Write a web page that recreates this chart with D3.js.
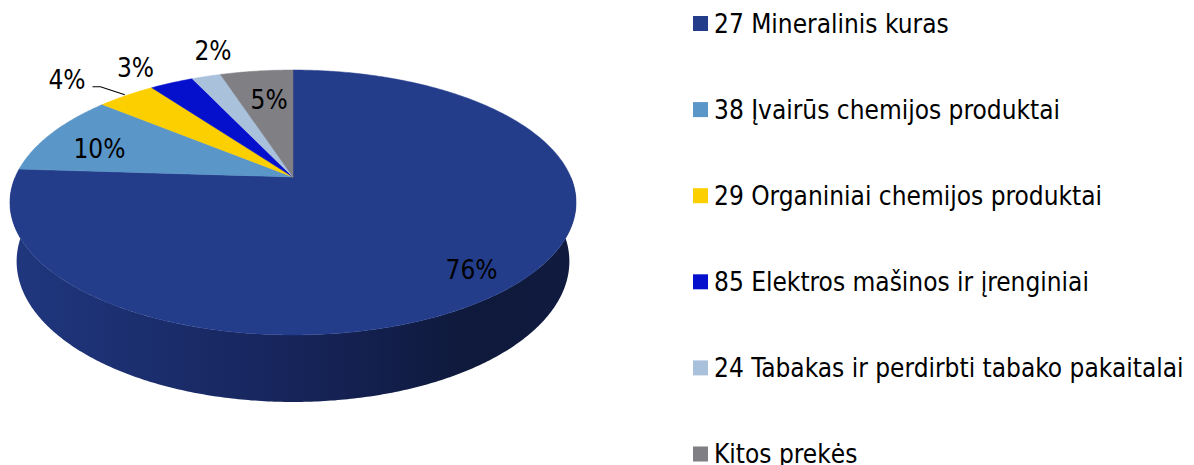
<!DOCTYPE html>
<html>
<head>
<meta charset="utf-8">
<script src="https://cdn.jsdelivr.net/npm/d3@7"></script>
<style>
  body { margin: 0; background: #fff; }
  text { font-family: "DejaVu Sans Condensed", "DejaVu Sans", sans-serif; fill: #000; }
</style>
</head>
<body>
<div id="chart"></div>
<script>

// data
const categories = [
    "27 Mineralinis kuras",
    "38 Įvairūs chemijos produktai",
    "29 Organiniai chemijos produktai",
    "85 Elektros mašinos ir įrenginiai",
    "24 Tabakas ir perdirbti tabako pakaitalai",
    "Kitos prekės"
];
const shares = [76, 10, 4, 3, 2, 5];
const colors = ["#243d8b", "#5a96c8", "#fccf00", "#0510cc", "#aac1dc", "#7f7f84"];

// label placement (radius factor on disc, pixel nudges)
const labelLayout = [
    {r: 0.83, dx: 0, dy: 6},
    {r: 0.80, dx: 2, dy: 8},
    {r: 1.30, dx: -17, dy: 5, leader: true},
    {r: 1.20, dx: -16, dy: 1},
    {r: 1.20, dx: 21, dy: -9},
    {r: 0.70, dx: 3, dy: 1}
];

const W = 1194, H = 465;
const svg = d3.select("#chart").append("svg")
    .attr("width", W)
    .attr("height", H);

// perspective projection of a tilted disc
const cam = {cx: 293, cy: 177, fx: 1286, fy: 1301, D: 4.63, elev: 27 * Math.PI / 180, depth: 0.237};
const sinE = Math.sin(cam.elev), cosE = Math.cos(cam.elev);

function proj(phi, r, y) {
    let x = r * Math.sin(phi);
    let z = r * Math.cos(phi);
    let yc = z * sinE + y * cosE;
    let dc = cam.D + z * cosE - y * sinE;
    return [cam.cx + cam.fx * x / dc, cam.cy - cam.fy * yc / dc];
}

const pie = d3.pie().sort(null).value(d => d)(shares);

function arcPts(a0, a1, r, y) {
    let n = Math.max(2, Math.ceil((a1 - a0) / 0.01));
    return d3.range(n + 1).map(i => proj(a0 + (a1 - a0) * i / n, r, y));
}

const line = d3.line();

// gradient for the side wall
const defs = svg.append("defs");
const grad = defs.append("linearGradient")
    .attr("id", "sideGrad")
    .attr("gradientUnits", "userSpaceOnUse")
    .attr("x1", 10).attr("x2", 576).attr("y1", 0).attr("y2", 0);
grad.append("stop").attr("offset", 0).attr("stop-color", "#20377f");
grad.append("stop").attr("offset", 0.5).attr("stop-color", "#16245a");
grad.append("stop").attr("offset", 0.82).attr("stop-color", "#0f193b");
grad.append("stop").attr("offset", 1).attr("stop-color", "#111b40");

// side walls (only the front half is visible)
const sides = svg.append("g");
pie.forEach((d, i) => {
    let a0 = Math.max(d.startAngle, Math.PI / 2);
    let a1 = Math.min(d.endAngle, Math.PI * 1.5);
    if (a1 <= a0) return;
    let top = arcPts(a0, a1, 1, 0);
    let bot = arcPts(a0, a1, 1, -cam.depth).reverse();
    sides.append("path")
        .attr("d", line(top.concat(bot)) + "Z")
        .attr("fill", i === 0 ? "url(#sideGrad)" : d3.color(colors[i]).darker(1.4));
});

// top faces
const tops = svg.append("g");
pie.forEach((d, i) => {
    let pts = [proj(0, 0, 0)].concat(arcPts(d.startAngle, d.endAngle, 1, 0));
    tops.append("path")
        .attr("d", line(pts) + "Z")
        .attr("fill", colors[i])
        .attr("stroke", colors[i])
        .attr("stroke-width", 0.5);
});

// percent labels
const labels = svg.append("g");
pie.forEach((d, i) => {
    let L = labelLayout[i];
    let mid = (d.startAngle + d.endAngle) / 2;
    let p = proj(mid, L.r, 0);
    let x = p[0] + L.dx, y = p[1] + L.dy;
    let t = labels.append("text")
        .attr("x", x)
        .attr("y", y)
        .attr("text-anchor", "middle")
        .attr("dominant-baseline", "central")
        .style("font-size", "26px")
        .text(shares[i] + "%");
    if (L.leader) {
        let w = t.node().getComputedTextLength();
        let edge = proj(mid, 1.01, 0);
        let right = x + w / 2;
        labels.append("path")
            .attr("d", line([[right + 7, y + 7], [right + 15, y + 7], edge]))
            .attr("fill", "none")
            .attr("stroke", "#000")
            .attr("stroke-width", 1.2);
    }
});

// legend
const legend = svg.append("g").attr("transform", "translate(693,0)");
const rowY = d3.scalePoint().domain(categories).range([23.5, 454]);
categories.forEach((c, i) => {
    let g = legend.append("g").attr("transform", "translate(0," + rowY(c) + ")");
    g.append("rect")
        .attr("x", 0).attr("y", -7.5)
        .attr("width", 15).attr("height", 15)
        .attr("fill", colors[i]);
    g.append("text")
        .attr("x", 21)
        .attr("y", 9)
        .style("font-size", "26px")
        .text(c);
});

</script>
</body>
</html>
